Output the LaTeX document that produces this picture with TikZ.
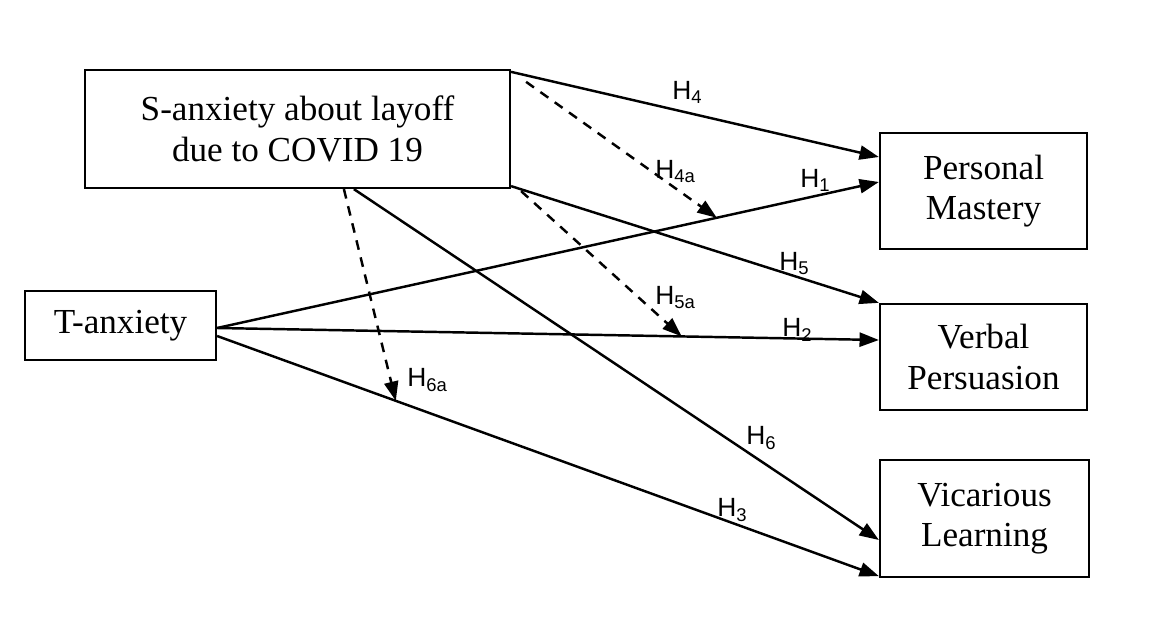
\documentclass[tikz,border=0pt]{standalone}
\usepackage{fontspec}
\setmainfont{Liberation Serif}
\newfontfamily\labfont{Liberation Sans}
\usetikzlibrary{arrows.meta,calc}
\begin{document}
\begin{tikzpicture}[x=0.02cm,y=-0.02cm,
  box/.style={draw,line width=1.3pt,inner sep=0pt,align=center,font=\fontsize{20}{23}\selectfont},
  link/.style={line width=1.4pt,-{Triangle[length=11pt,width=8pt]}},
  dlink/.style={link,dash pattern=on 5.5pt off 4.5pt},
  hlab/.style={anchor=west,inner sep=0pt,font=\labfont\fontsize{15}{17}\selectfont}]
\useasboundingbox (0,0) rectangle (1157,628);
\node[box,minimum width=8.5cm,minimum height=2.36cm] (S) at (297.5,129) {S-anxiety about layoff\\due to COVID 19};
\node[box,minimum width=4.14cm,minimum height=2.32cm] (PM) at (983.5,191) {Personal\\Mastery};
\node[box,minimum width=4.14cm,minimum height=2.12cm] (VP) at (983.5,357) {Verbal\\Persuasion};
\node[box,minimum width=4.18cm,minimum height=2.34cm] (VL) at (984.5,518.5) {Vicarious\\Learning};
\node[box,minimum width=3.82cm,minimum height=1.38cm] (T) at (120.5,325.5) {T-anxiety};
% helper coordinates
\coordinate (tA) at ($(T.east)+(0,2.5)$);
\coordinate (tB) at ($(T.east)+(0,10.5)$);
\coordinate (pmA) at ($(PM.west)+(0,-34)$);
\coordinate (pmB) at ($(PM.west)+(0,-9)$);
\coordinate (vpA) at ($(VP.west)+(0,-17)$);
\coordinate (vlA) at ($(VL.west)+(0,21.5)$);
\coordinate (vlB) at ($(VL.south west)+(0,-2)$);
\path (tA) -- (pmB) coordinate[pos=0.755] (m1);
\path (tA) -- (vpA) coordinate[pos=0.702] (m2);
\path (tB) -- (vlB) coordinate[pos=0.27] (m3);
% solid paths
\draw[link] ($(S.north east)+(0,3)$) -- (pmA);
\draw[link] (tA) -- (pmB);
\draw[link] ($(S.south east)+(0,-3)$) -- (VP.north west);
\draw[link] (tA) -- (vpA);
\draw[link] (tB) -- (vlB);
\draw[link] ($(S.south west)+(270,0)$) -- (vlA);
% dashed moderation paths
\draw[dlink] ($(S.north east)+(15,13)$) -- (m1);
\draw[dlink] ($(S.south east)+(10,2)$) -- (m2);
\draw[dlink] ($(S.south west)+(260,0)$) -- (m3);
% labels
\node[hlab] (l4) at (672,92) {H\textsubscript{4}};
\node[hlab] (l4a) at (655,172) {H\textsubscript{4a}};
\node[hlab] (l1) at (800,180) {H\textsubscript{1}};
\node[hlab] (l5) at (779,264) {H\textsubscript{5}};
\node[hlab] (l5a) at (655,298) {H\textsubscript{5a}};
\node[hlab] (l2) at (782,330) {H\textsubscript{2}};
\node[hlab] (l6a) at (407,380) {H\textsubscript{6a}};
\node[hlab] (l6) at (746,438) {H\textsubscript{6}};
\node[hlab] (l3) at (717,510) {H\textsubscript{3}};
\end{tikzpicture}
\end{document}
